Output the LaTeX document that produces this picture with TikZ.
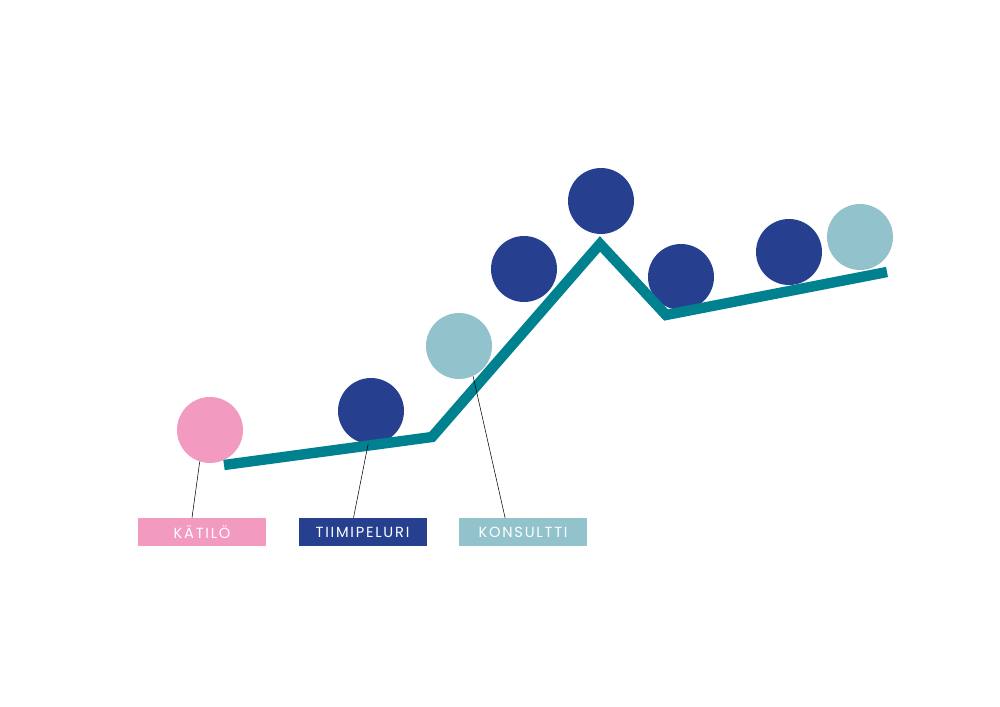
\documentclass[tikz,border=0pt]{standalone}
\usepackage{fontspec}
\setmainfont{Poppins}
\usepackage{xcolor}
\usepackage{tikz}
\usetikzlibrary{positioning}

\definecolor{kpink}{HTML}{F39AC1}
\definecolor{knavy}{HTML}{26408F}
\definecolor{klight}{HTML}{92C2CB}
\definecolor{kteal}{HTML}{00818F}

\begin{document}
\begin{tikzpicture}[
        x=0.75pt, y=-0.75pt,
        ball/.style={circle, inner sep=0pt, minimum size=49.5pt},
        tag/.style={rectangle, inner sep=0pt, minimum width=96pt, minimum height=21pt, text=white,
            font=\fontsize{11}{13}\selectfont\addfontfeatures{LetterSpace=12}},
        path/.style={draw=kteal, line width=7.8pt, miter limit=10},
        pin/.style={draw=black, line width=0.4pt}
    ]
        \useasboundingbox (0,0) rectangle (1000,707);

        % The road
        \coordinate (p0) at (224,465);
        \coordinate (p1) at (432,437);
        \coordinate (p2) at (600,244);
        \coordinate (p3) at (666,315);
        \coordinate (p4) at (887,272);

        % Balls on the road
        \node[ball, fill=kpink] (katilo) at (210,430) {};
        \node[ball, fill=knavy] (tiimi) at (371,411) {};
        \node[ball, fill=klight] (konsultti) at (459,346) {};
        \node[ball, fill=knavy] (b4) at (524,269) {};
        \node[ball, fill=knavy] (b5) at (601,201) {};
        \node[ball, fill=knavy] (b6) at (681,277) {};
        \node[ball, fill=knavy] (b7) at (789,252) {};
        \node[ball, fill=klight] (b8) at (860,237) {};

        \draw[path] (p0) -- (p1) -- (p2) -- (p3) -- (p4);

        % Labels
        \node[tag, fill=kpink] (lkatilo) at (202,532) {KÄTILÖ};
        \node[tag, fill=knavy, right=24pt of lkatilo] (ltiimi) {TIIMIPELURI};
        \node[tag, fill=klight, right=24pt of ltiimi] (lkonsultti) {KONSULTTI};

        % Pointers
        \draw[pin] (katilo.252) -- ([xshift=-7.5pt]lkatilo.north);
        \draw[pin] (tiimi.265) -- ([xshift=-6.75pt]ltiimi.north);
        \draw[pin] (konsultti.295) -- ([xshift=-13.5pt]lkonsultti.north);

    \end{tikzpicture}
\end{document}
